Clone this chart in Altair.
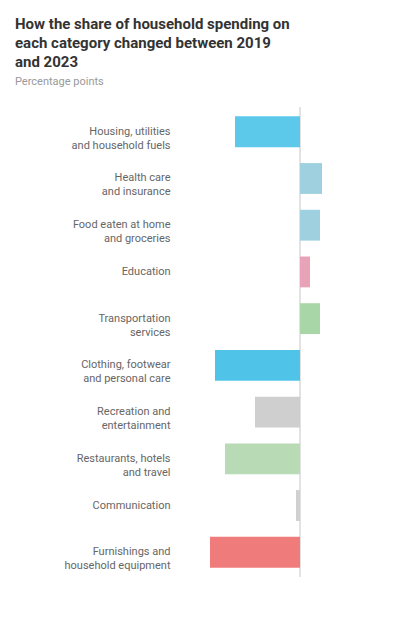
import altair as alt
import pandas as pd

categories = [
    "Housing, utilities|and household fuels",
    "Health care|and insurance",
    "Food eaten at home|and groceries",
    "Education",
    "Transportation|services",
    "Clothing, footwear|and personal care",
    "Recreation and|entertainment",
    "Restaurants, hotels|and travel",
    "Communication",
    "Furnishings and|household equipment",
]
values = [-6.5, 2.2, 2.0, 1.0, 2.0, -8.5, -4.5, -7.5, -0.4, -9.0]
colors = ["#5cc8ea", "#9fd0df", "#9fd0df", "#e9a3b8", "#a9d6a6",
          "#4fc3e8", "#cfcfcf", "#b8dbb5", "#d0d0d0", "#f07b7b"]

title_lines = ["How the share of household spending on",
               "each category changed between 2019",
               "and 2023"]
subtitle = "Percentage points"

df = pd.DataFrame({"category": categories, "value": values, "color": colors})

bars = alt.Chart(df).mark_bar().encode(
    y=alt.Y("category:N", sort=categories,
            scale=alt.Scale(paddingInner=0.34, paddingOuter=0.2),
            axis=alt.Axis(title=None, labelExpr="split(datum.label, '|')",
                          labelFontSize=11, labelColor="#666", labelFont="Roboto",
                          ticks=False, domain=False, labelPadding=25, labelLimit=190,
                          labelLineHeight=14)),
    x=alt.X("value:Q", scale=alt.Scale(domain=[-10.5, 4.5], nice=False),
            axis=alt.Axis(title=None, grid=False, labels=False, ticks=False, domain=False)),
    color=alt.Color("color:N", scale=None),
)
rule = alt.Chart(df).mark_rule(color="#e2e2e2").encode(x=alt.datum(0))

chart = alt.layer(rule, bars).properties(
    width=150, height=470,
    background="white",
    autosize=alt.AutoSizeParams(type="none"),
    padding={"left": 187, "top": 99, "right": 47, "bottom": 34},
    title=alt.TitleParams(text=title_lines, subtitle=subtitle, anchor="start", frame="group",
                          dx=-180, offset=20, fontSize=15, font="Roboto", fontWeight="bold",
                          color="#333", lineHeight=19, subtitleFontSize=11,
                          subtitleColor="#999", subtitleFont="Roboto", subtitlePadding=6),
).configure_view(strokeWidth=0, stroke="transparent")

chart.save("out.html", embed_options={"renderer": "svg", "actions": False})
